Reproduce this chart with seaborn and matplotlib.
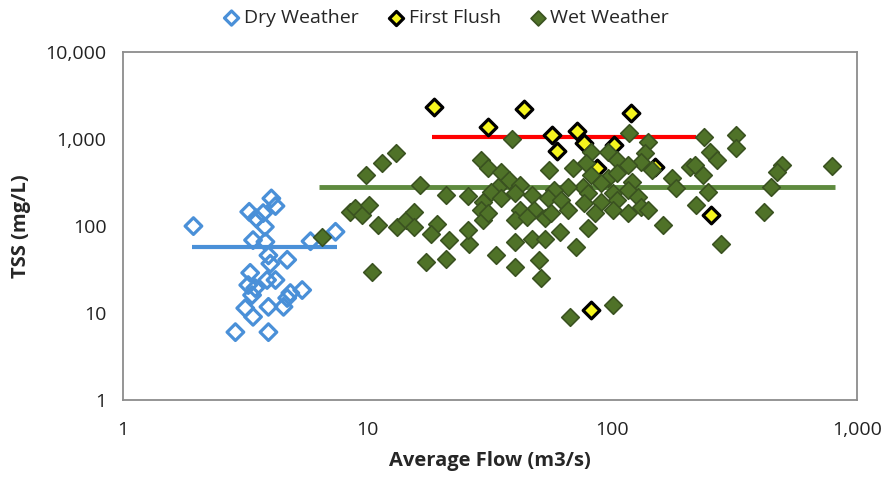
import matplotlib
matplotlib.use("Agg")
import matplotlib.pyplot as plt
import matplotlib.ticker as mticker
import numpy as np
import pandas as pd
import seaborn as sns

# ---- data: average flow (m3/s) and TSS (mg/L) ----
dry_flow = [1.94, 4.04, 4.2, 3.28, 3.5, 3.74, 3.8, 3.4, 3.82, 3.93, 4.69, 4.0,
            3.31, 3.88, 4.2, 3.25, 3.47, 3.37, 5.4, 4.83, 4.69, 4.53, 3.93, 3.16,
            3.4, 2.88, 3.93, 5.84, 7.39]
dry_tss = [100, 208, 170, 146, 123, 141, 98, 69, 66, 46, 41, 37,
           29, 24, 24, 21, 19.4, 16.1, 18.4, 17, 14.9, 11.8, 11.8, 11.4,
           9.06, 6.04, 6.04, 67, 86]

ff_flow = [18.7, 31, 43.5, 56.6, 59.5, 71.9, 77, 102, 119, 150, 82, 253, 87]
ff_tss = [2310, 1360, 2190, 1110, 734, 1250, 907, 853, 2006, 473, 10.8, 134, 460]

wet_flow = [6.5, 8.5, 8.9, 9.5, 10.1, 9.8, 11.4, 13.0, 11.0, 13.2, 14.3, 15.5,
            15.5, 10.4, 17.3, 16.4, 39, 29, 31, 35, 38, 42, 34, 32, 21, 25.6,
            29.5, 29, 35, 40, 47, 48, 42, 19.3, 18.1, 21.5, 26, 25.6, 29.5, 31,
            21, 33.5, 40, 40, 40, 45, 53, 47, 53, 50, 51, 55, 117, 140, 136,
            145, 131, 82, 96, 105, 116, 69, 78, 82, 96, 105, 120, 90, 76, 66,
            58, 54.5, 62, 79.5, 101, 116, 127, 77, 90, 105, 131, 175, 183, 207,
            56, 66, 85, 101, 116, 140, 61, 71, 79.5, 161, 67, 101, 238, 322,
            322, 250, 267, 217, 235, 247, 221, 278, 493, 470, 445, 419, 790]
wet_tss = [75, 146, 160, 134, 174, 385, 525, 695, 103, 98, 117, 146,
           98, 30, 39, 295, 990, 575, 460, 420, 340, 295, 283, 248, 227, 221,
           190, 153, 208, 238, 227, 153, 153, 107, 82, 69, 63, 90, 117, 140,
           42, 46, 34, 66, 117, 128, 123, 72, 72, 41, 25, 440, 1180, 930, 685,
           440, 548, 715, 715, 575, 500, 460, 525, 385, 353, 404, 323, 310, 283, 283,
           259, 208, 199, 238, 238, 259, 217, 182, 190, 199, 167, 353, 271, 481,
           140, 153, 140, 153, 140, 153, 86, 58, 94, 103, 9.1, 12.4, 1045, 1110,
           780, 715, 575, 500, 385, 248, 174, 63, 500, 420, 283, 146, 490]

# mean TSS of each condition, drawn across its flow range
dry_mean, dry_range = 57, (1.91, 7.5)
ff_mean, ff_range = 1050, (18.4, 221)
wet_mean, wet_range = 278, (6.3, 813)

DRY_C = "#4A90D8"
FF_C = "#F5F51E"
WET_C = "#4F7228"
WET_EDGE = "#3A5220"
WET_LINE = "#5E8A3E"

sns.set_style("white")
plt.rcParams["font.family"] = ["Open Sans", "DejaVu Sans"]

fig = plt.figure(figsize=(8.82, 4.78), dpi=100)
ax = fig.add_axes([0.1395, 0.163, 0.832, 0.728])

dry = pd.DataFrame({"flow": dry_flow, "tss": dry_tss})
ff = pd.DataFrame({"flow": ff_flow, "tss": ff_tss})
wet = pd.DataFrame({"flow": wet_flow, "tss": wet_tss})

# mean lines
ax.plot(dry_range, [dry_mean] * 2, color=DRY_C, lw=3, zorder=2, solid_capstyle="butt")
ax.plot(ff_range, [ff_mean] * 2, color="#FF0000", lw=3, zorder=2, solid_capstyle="butt")
ax.plot(wet_range, [wet_mean] * 2, color=WET_LINE, lw=3.5, zorder=2, solid_capstyle="butt")

sns.scatterplot(data=dry, x="flow", y="tss", ax=ax, marker="D", s=72,
                facecolor="none", edgecolor=DRY_C, linewidth=2.3,
                label="Dry Weather", zorder=3, legend=False)
sns.scatterplot(data=ff, x="flow", y="tss", ax=ax, marker="D", s=72,
                color=FF_C, edgecolor="black", linewidth=2.3,
                label="First Flush", zorder=4, legend=False)
sns.scatterplot(data=wet, x="flow", y="tss", ax=ax, marker="D", s=80,
                color=WET_C, edgecolor=WET_EDGE, linewidth=1.2,
                label="Wet Weather", zorder=5, legend=False)

ax.set_xscale("log")
ax.set_yscale("log")
ax.set_xlim(1, 1000)
ax.set_ylim(1, 10000)

fmt = mticker.FuncFormatter(lambda v, p: f"{v:,.0f}")
ax.xaxis.set_major_locator(mticker.FixedLocator([1, 10, 100, 1000]))
ax.yaxis.set_major_locator(mticker.FixedLocator([1, 10, 100, 1000, 10000]))
ax.xaxis.set_major_formatter(fmt)
ax.yaxis.set_major_formatter(fmt)
ax.xaxis.set_minor_locator(mticker.NullLocator())
ax.yaxis.set_minor_locator(mticker.NullLocator())

for sp in ax.spines.values():
    sp.set_color("#8C8C8C")
    sp.set_linewidth(1.3)

ax.tick_params(axis="both", which="major", direction="out", length=5,
               width=1.2, color="#8C8C8C", labelsize=14, labelcolor="#222222")
ax.tick_params(axis="x", pad=10)
ax.tick_params(axis="y", pad=7)

ax.set_xlabel("Average Flow (m3/s)", fontsize=14.5, fontweight="bold", labelpad=9)
ax.set_ylabel("TSS (mg/L)", fontsize=14.5, fontweight="bold", labelpad=10)

handles, labels = ax.get_legend_handles_labels()
fig.legend(handles, labels, loc="center", bbox_to_anchor=(0.505, 0.962), ncol=3,
           frameon=False, fontsize=14, handletextpad=0.15, handlelength=1.0,
           columnspacing=1.4, markerscale=0.85)

fig.savefig("out.png", dpi=100, facecolor="white")
